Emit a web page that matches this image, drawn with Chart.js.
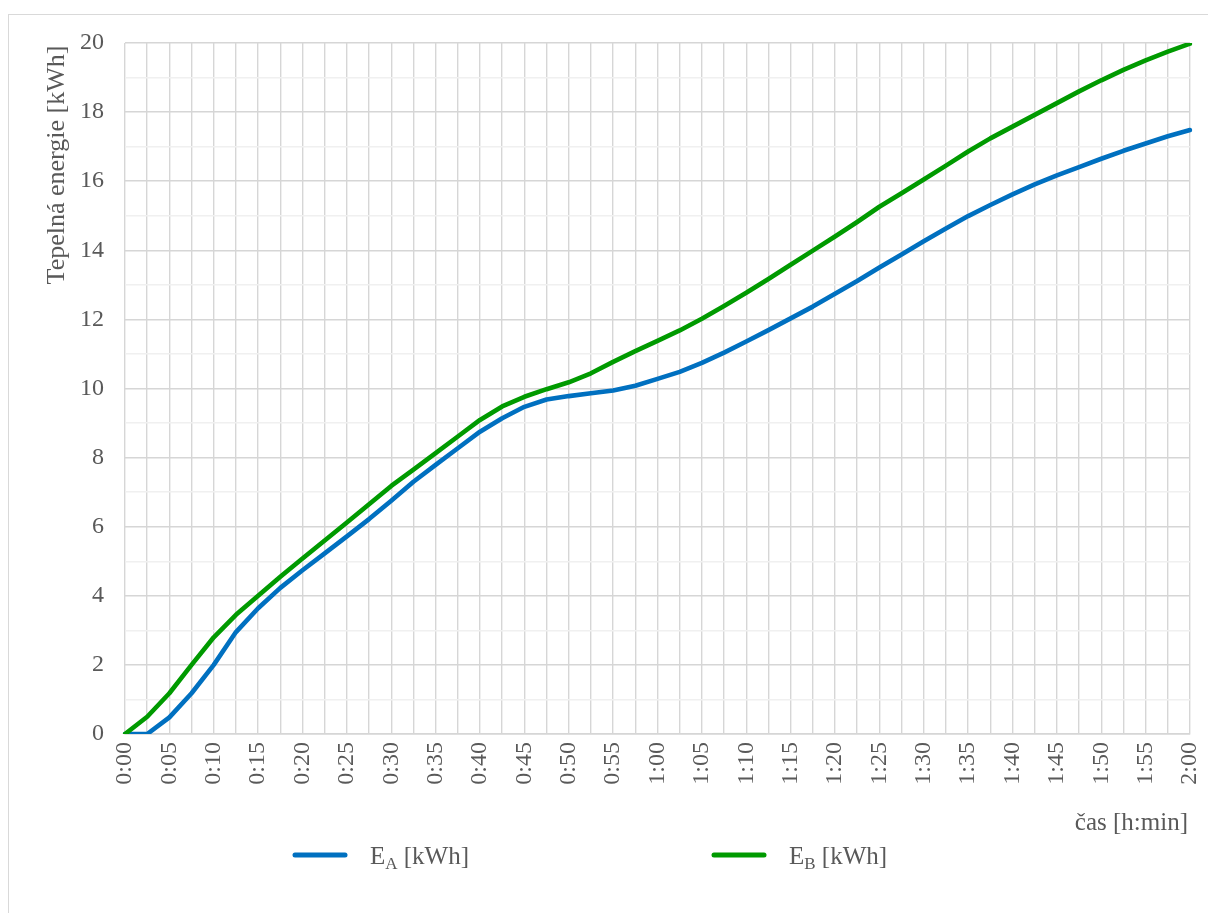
<!DOCTYPE html>
<html>
<head>
<meta charset="utf-8">
<script src="https://cdn.jsdelivr.net/npm/chart.js@4.4.1/dist/chart.umd.min.js"></script>
<style>
  html, body { margin: 0; padding: 0; background: #fff; width: 1208px; height: 913px; overflow: hidden; }
  #frame { position: absolute; left: 8px; top: 14px; width: 1220px; height: 920px; border: 1px solid #d9d9d9; box-sizing: border-box; }
  #wrap { position: absolute; left: 0; top: 0; width: 1208px; height: 913px; }
</style>
</head>
<body>
<div id="frame"></div>
<div id="wrap"><canvas id="c" width="1208" height="913"></canvas></div>
<script>
// Time of measurement in minutes (one sample every 2.5 min)
const minutes = [
  0, 2.5, 5, 7.5, 10, 12.5, 15, 17.5, 20, 22.5, 25, 27.5, 30,
  32.5, 35, 37.5, 40, 42.5, 45, 47.5, 50, 52.5, 55, 57.5, 60,
  62.5, 65, 67.5, 70, 72.5, 75, 77.5, 80, 82.5, 85, 87.5, 90,
  92.5, 95, 97.5, 100, 102.5, 105, 107.5, 110, 112.5, 115, 117.5, 120
];

// Labelled ticks (every 5 min)
const tickLabels = [
  '0:00', '0:05', '0:10', '0:15', '0:20', '0:25', '0:30', '0:35', '0:40', '0:45', '0:50', '0:55',
  '1:00', '1:05', '1:10', '1:15', '1:20', '1:25', '1:30', '1:35', '1:40', '1:45', '1:50', '1:55', '2:00'
];

// Heat energy E_A [kWh]
const energyA = [
  0, 0, 0.48, 1.18, 2.0, 2.95, 3.64, 4.23, 4.74, 5.23, 5.72, 6.22, 6.75,
  7.3, 7.79, 8.27, 8.75, 9.14, 9.47, 9.68, 9.78, 9.86, 9.94, 10.08, 10.28,
  10.48, 10.74, 11.04, 11.36, 11.69, 12.03, 12.37, 12.74, 13.11, 13.5, 13.88, 14.26,
  14.63, 14.99, 15.31, 15.62, 15.91, 16.17, 16.41, 16.65, 16.88, 17.09, 17.3, 17.48
];

// Heat energy E_B [kWh]
const energyB = [
  0, 0.5, 1.18, 2.0, 2.8, 3.45, 4.0, 4.55, 5.08, 5.6, 6.12, 6.65, 7.18,
  7.65, 8.13, 8.61, 9.09, 9.48, 9.76, 9.98, 10.18, 10.44, 10.77, 11.08, 11.38,
  11.68, 12.02, 12.39, 12.77, 13.17, 13.58, 13.99, 14.4, 14.82, 15.26, 15.65, 16.05,
  16.45, 16.86, 17.24, 17.58, 17.92, 18.26, 18.6, 18.92, 19.22, 19.5, 19.75, 19.98
];

const seriesNames = ['A', 'B'];
const seriesColors = ['#0070C0', '#009A00'];

const TEXT = '#595959';
const SERIF = '"Liberation Serif", "Times New Roman", serif';

// Axis titles and legend (with subscripts) drawn on the canvas
const annotations = {
  id: 'annotations',
  afterDraw(chart) {
    const ctx = chart.ctx;
    const area = chart.chartArea;
    ctx.save();
    ctx.fillStyle = TEXT;

    // y-axis title, placed at the top end of the axis
    ctx.font = '26px ' + SERIF;
    ctx.translate(57, area.top + 122);
    ctx.rotate(-Math.PI / 2);
    ctx.textAlign = 'center';
    ctx.textBaseline = 'middle';
    ctx.fillText('Tepelná energie [kWh]', 0, 0);
    ctx.setTransform(1, 0, 0, 1, 0, 0);

    // x-axis title, placed at the right end of the axis
    ctx.font = '25px ' + SERIF;
    ctx.textAlign = 'right';
    ctx.textBaseline = 'middle';
    ctx.fillText('čas [h:min]', area.right - 2, 823);

    // legend
    const legendY = 855;
    const legendX = [293, 712];
    chart.data.datasets.forEach((ds, i) => {
      const x0 = legendX[i];
      ctx.strokeStyle = ds.borderColor;
      ctx.lineWidth = 5;
      ctx.lineCap = 'round';
      ctx.beginPath();
      ctx.moveTo(x0 + 2, legendY);
      ctx.lineTo(x0 + 52, legendY);
      ctx.stroke();

      let tx = x0 + 77;
      ctx.textAlign = 'left';
      ctx.textBaseline = 'alphabetic';
      ctx.font = '25px ' + SERIF;
      ctx.fillText('E', tx, legendY + 9);
      tx += ctx.measureText('E').width;
      ctx.font = '17px ' + SERIF;
      ctx.fillText(seriesNames[i], tx, legendY + 14);
      tx += ctx.measureText(seriesNames[i]).width;
      ctx.font = '25px ' + SERIF;
      ctx.fillText(' [kWh]', tx, legendY + 9);
    });
    ctx.restore();
  }
};

const makeSet = (data, i) => ({
  label: 'E' + seriesNames[i] + ' [kWh]',
  data: data,
  borderColor: seriesColors[i],
  backgroundColor: seriesColors[i],
  borderWidth: 4.6,
  pointRadius: 0,
  tension: 0,
  borderCapStyle: 'round',
  borderJoinStyle: 'round',
  fill: false,
  order: 1 - i
});

new Chart(document.getElementById('c'), {
  type: 'line',
  data: {
    labels: minutes,
    datasets: [makeSet(energyA, 0), makeSet(energyB, 1)]
  },
  options: {
    responsive: false,
    animation: false,
    devicePixelRatio: 1,
    layout: { padding: { left: 0, right: 18, top: 43, bottom: 0 } },
    plugins: {
      legend: { display: false },
      tooltip: { enabled: false },
      title: { display: false }
    },
    scales: {
      x: {
        type: 'category',
        offset: false,
        grid: { color: '#d6d6d6', lineWidth: 1.4, drawTicks: false },
        border: { display: true, color: '#d6d6d6', width: 1.4 },
        ticks: {
          autoSkip: false,
          maxRotation: 90,
          minRotation: 90,
          padding: 8,
          color: TEXT,
          font: { family: SERIF, size: 24 },
          callback: (v, i) => (i % 2 === 0 ? tickLabels[i / 2] : '')
        },
        afterFit: (s) => { s.height = 179; s.paddingLeft = 0; s.paddingRight = 0; }
      },
      y: {
        min: 0,
        max: 20,
        grid: {
          color: (c) => (c.tick && c.tick.value % 2 === 0 ? '#d6d6d6' : '#f0f0f0'),
          lineWidth: 1.4,
          drawTicks: false
        },
        border: { display: false },
        ticks: {
          stepSize: 1,
          padding: 21,
          color: TEXT,
          font: { family: SERIF, size: 24 },
          callback: (v) => (v % 2 === 0 ? v : '')
        },
        afterFit: (s) => { s.width = 125; s.paddingTop = 0; s.paddingBottom = 0; }
      }
    }
  },
  plugins: [annotations]
});
</script>
</body>
</html>
